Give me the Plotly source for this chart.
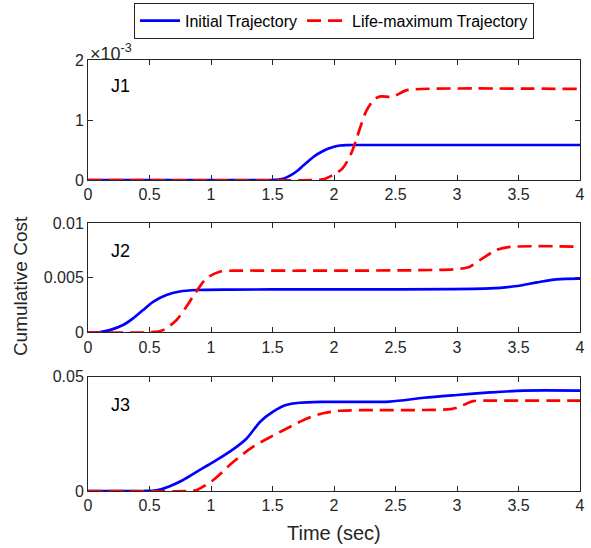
import plotly.graph_objects as go
from plotly.subplots import make_subplots

# Time samples and cumulative cost values for each cost term
t_j1_init = [0, 1.5, 1.55, 1.6, 1.65, 1.7, 1.75, 1.8, 1.85, 1.9, 1.95, 2.0, 2.05, 2.1, 2.2, 4.0]
j1_init = [0, 0, 0.000005, 0.00003, 0.00008, 0.00015, 0.00024, 0.00033, 0.00041, 0.00047,
           0.00052, 0.000555, 0.000575, 0.000582, 0.000583, 0.000583]
t_j1_life = [0, 1.85, 1.91, 1.99, 2.07, 2.14, 2.18, 2.22, 2.26, 2.32, 2.37, 2.48, 2.58, 2.71, 4.0]
j1_life = [0, 0, 0.00001, 0.000083, 0.000195, 0.000445, 0.000667, 0.000917, 0.00114,
           0.00133, 0.00139, 0.00139, 0.00149, 0.001517, 0.001517]

t_j2_init = [0, 0.1, 0.177, 0.285, 0.366, 0.448, 0.529, 0.638, 0.746, 0.882, 1.18, 1.64,
             3.27, 3.49, 3.65, 3.81, 4.0]
j2_init = [0, 0.00003, 0.0002, 0.00067, 0.00128, 0.00205, 0.0028, 0.00342, 0.00374, 0.00388,
           0.00392, 0.00394, 0.00403, 0.00425, 0.00458, 0.00486, 0.00492]
t_j2_life = [0, 0.5, 0.61, 0.72, 0.80, 0.88, 0.963, 1.07, 1.23, 1.72, 3.0, 3.1, 3.21, 3.32,
             3.43, 4.0]
j2_life = [0, 0, 0.0002, 0.00113, 0.00235, 0.00373, 0.00495, 0.00556, 0.00566, 0.00565,
           0.0058, 0.0060, 0.0068, 0.00755, 0.00783, 0.00786]

t_j3_init = [0, 0.45, 0.556, 0.66, 0.77, 0.906, 1.01, 1.15, 1.29, 1.40, 1.505, 1.61, 1.72,
             1.91, 2.45, 2.73, 3.0, 3.27, 3.54, 4.0]
j3_init = [0, 0, 0.0003, 0.002, 0.0047, 0.0091, 0.0124, 0.0171, 0.0230, 0.0303, 0.0347,
           0.0376, 0.0386, 0.0390, 0.0391, 0.0408, 0.0420, 0.0431, 0.0439, 0.0439]
t_j3_life = [0, 0.82, 0.88, 1.016, 1.18, 1.34, 1.5, 1.64, 1.78, 1.91, 2.05, 2.32, 2.95,
             3.02, 3.13, 3.27, 4.0]
j3_life = [0, 0, 0.0003, 0.0047, 0.0127, 0.0193, 0.0241, 0.028, 0.0317, 0.034, 0.0351,
           0.0354, 0.0358, 0.0368, 0.0393, 0.0395, 0.0395]

panel_names = ["J1", "J2", "J3"]
series_names = ["Initial Trajectory", "Life-maximum Trajectory"]
x_ticks = [0, 0.5, 1, 1.5, 2, 2.5, 3, 3.5, 4]
x_ticktext = ["0", "0.5", "1", "1.5", "2", "2.5", "3", "3.5", "4"]
y_ticks = [[0, 0.001, 0.002], [0, 0.005, 0.01], [0, 0.05]]
y_ticktext = [["0", "1", "2"], ["0", "0.005", "0.01"], ["0", "0.05"]]
y_ranges = [[0, 0.002], [0, 0.01], [0, 0.05]]

init_data = [(t_j1_init, j1_init), (t_j2_init, j2_init), (t_j3_init, j3_init)]
life_data = [(t_j1_life, j1_life), (t_j2_life, j2_life), (t_j3_life, j3_life)]

W, H = 591, 548
ML, MR, MT, MB = 88, 6, 60, 57
plot_h = H - MT - MB

def frac(top_px, bot_px):
    return [(H - MB - bot_px) / plot_h, (H - MB - top_px) / plot_h]

domains = [frac(60, 180), frac(223.3, 332.3), frac(376.7, 491)]
label_y = [0.78, 0.746, 0.755]

fig = make_subplots(rows=3, cols=1)

axis_color = "#262626"
font_family = "Liberation Sans, Arial, sans-serif"

for i in range(3):
    ti, yi = init_data[i]
    tl, yl = life_data[i]
    fig.add_trace(go.Scatter(x=ti, y=yi, mode="lines", name=series_names[0],
                             line=dict(color="#0000ff", width=2.7, shape="spline", smoothing=0.8),
                             showlegend=(i == 0)), row=i + 1, col=1)
    fig.add_trace(go.Scatter(x=tl, y=yl, mode="lines", name=series_names[1],
                             line=dict(color="#ff0000", width=2.7, dash="14px,7px",
                                       shape="spline", smoothing=0.8),
                             showlegend=(i == 0)), row=i + 1, col=1)

    ax_common = dict(showline=True, linecolor=axis_color, linewidth=1, mirror="allticks",
                     ticks="inside", ticklen=5, tickcolor=axis_color, showgrid=False,
                     zeroline=False, tickfont=dict(family=font_family, size=16, color=axis_color))
    fig.update_xaxes(range=[0, 4], tickvals=x_ticks, ticktext=x_ticktext, row=i + 1, col=1,
                     **ax_common)
    fig.update_yaxes(range=y_ranges[i], tickvals=y_ticks[i], ticktext=y_ticktext[i],
                     domain=domains[i], row=i + 1, col=1, **ax_common)

    xref = "x domain" if i == 0 else f"x{i + 1} domain"
    yref = "y domain" if i == 0 else f"y{i + 1} domain"
    fig.add_annotation(text=panel_names[i], x=0.043, y=label_y[i], xref=xref, yref=yref,
                       xanchor="left", yanchor="middle", showarrow=False,
                       font=dict(family=font_family, size=18, color="black"))

# Exponent label for the first panel
fig.add_annotation(text="×10<sup>-3</sup>", x=0, y=1.0, xref="x domain", yref="y domain",
                   xanchor="left", yanchor="bottom", yshift=-6, showarrow=False,
                   font=dict(family=font_family, size=18, color=axis_color))

fig.add_annotation(text="Cumulative Cost", x=-0.138, y=0.4756, xref="paper", yref="paper",
                   textangle=-90, showarrow=False, xanchor="center", yanchor="middle",
                   font=dict(family=font_family, size=19, color=axis_color))
fig.add_annotation(text="Time (sec)", x=0.5, y=-0.068, xref="paper", yref="paper",
                   showarrow=False, xanchor="center", yanchor="top",
                   font=dict(family=font_family, size=20, color=axis_color))

fig.update_layout(
    width=W, height=H,
    margin=dict(l=ML, r=MR, t=MT, b=MB),
    paper_bgcolor="white", plot_bgcolor="white",
    font=dict(family=font_family, color=axis_color),
    legend=dict(orientation="h", x=0.5, xanchor="center", y=0.995, yref="container",
                yanchor="top", bordercolor=axis_color, borderwidth=1, bgcolor="white",
                font=dict(family=font_family, size=16, color="black"),
                itemwidth=40, tracegroupgap=0),
)

fig.write_html("out.html")
